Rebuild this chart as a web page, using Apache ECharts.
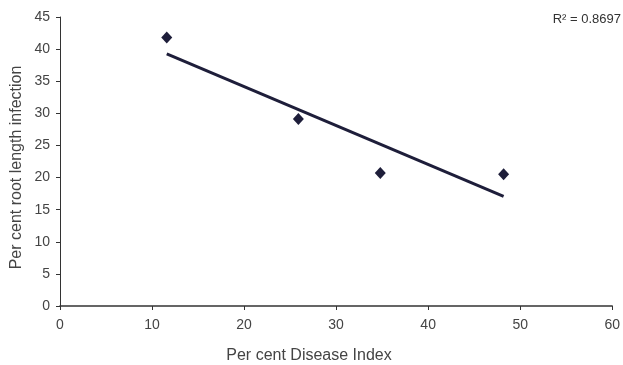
<!DOCTYPE html>
<html>
<head>
<meta charset="utf-8">
<script src="https://cdn.jsdelivr.net/npm/echarts@6/dist/echarts.min.js"></script>
<style>html,body{margin:0;padding:0;background:#fff}#c{width:623px;height:365px}</style>
</head>
<body>
<div id="c"></div>
<script>
var diseaseIndex = [11.6, 25.9, 34.8, 48.2];
var rootInfection = [41.8, 29.1, 20.7, 20.5];
var xTicks = [0, 10, 20, 30, 40, 50, 60];
var yTicks = [0, 5, 10, 15, 20, 25, 30, 35, 40, 45];
var r2Label = 'R² = 0.8697';
var xTitle = 'Per cent Disease Index';
var yTitle = 'Per cent root length infection';

// least-squares trend line from the data
var n = diseaseIndex.length, mx = 0, my = 0;
for (var i = 0; i < n; i++) { mx += diseaseIndex[i]; my += rootInfection[i]; }
mx /= n; my /= n;
var sxy = 0, sxx = 0;
for (var i = 0; i < n; i++) { sxy += (diseaseIndex[i]-mx)*(rootInfection[i]-my); sxx += (diseaseIndex[i]-mx)*(diseaseIndex[i]-mx); }
var slope = sxy / sxx, intercept = my - slope * mx;
var xMin = Math.min.apply(null, diseaseIndex), xMax = Math.max.apply(null, diseaseIndex);
var trend = [[xMin, intercept + slope * xMin], [xMax, intercept + slope * xMax]];

var pts = diseaseIndex.map(function (x, i) { return [x, rootInfection[i]]; });
var ink = '#1e1e3a';
var txt = '#444';
var chart = echarts.init(document.getElementById('c'));
chart.setOption({
  animation: false,
  backgroundColor: '#fff',
  grid: { left: 60, right: 8, top: 17, bottom: 59 },
  xAxis: {
    type: 'value', min: xTicks[0], max: xTicks[xTicks.length-1], interval: 10,
    axisLine: { lineStyle: { color: '#333', width: 1.5 } },
    axisTick: { show: true, length: 4, lineStyle: { color: '#333' } },
    axisLabel: { color: txt, fontFamily: 'Liberation Sans, Arial', fontSize: 14, margin: 12 },
    splitLine: { show: false }
  },
  yAxis: {
    type: 'value', min: yTicks[0], max: yTicks[yTicks.length-1], interval: 5,
    axisLine: { show: true, lineStyle: { color: '#333', width: 1 } },
    axisTick: { show: true, length: 4, lineStyle: { color: '#333' } },
    axisLabel: { color: txt, fontFamily: 'Liberation Sans, Arial', fontSize: 14, margin: 10 },
    splitLine: { show: false }
  },
  graphic: [
    { type: 'text', style: { text: xTitle, fill: txt, font: '16px "Liberation Sans", Arial', textAlign: 'center', textVerticalAlign: 'middle' }, x: 309, y: 356 },
    { type: 'text', style: { text: yTitle, fill: txt, font: '16px "Liberation Sans", Arial', textAlign: 'center', textVerticalAlign: 'middle' }, x: 17, y: 167.5, rotation: Math.PI/2 },
    { type: 'text', style: { text: r2Label, fill: '#333', font: '13px "Liberation Sans", Arial', textAlign: 'right', textVerticalAlign: 'middle' }, x: 621, y: 19 }
  ],
  series: [
    { type: 'line', data: trend, symbol: 'none', lineStyle: { color: ink, width: 3 }, z: 2 },
    { type: 'scatter', data: pts, symbol: 'diamond', symbolSize: [11, 12], itemStyle: { color: ink, opacity: 1 }, z: 3 }
  ]
});
</script>
</body>
</html>
